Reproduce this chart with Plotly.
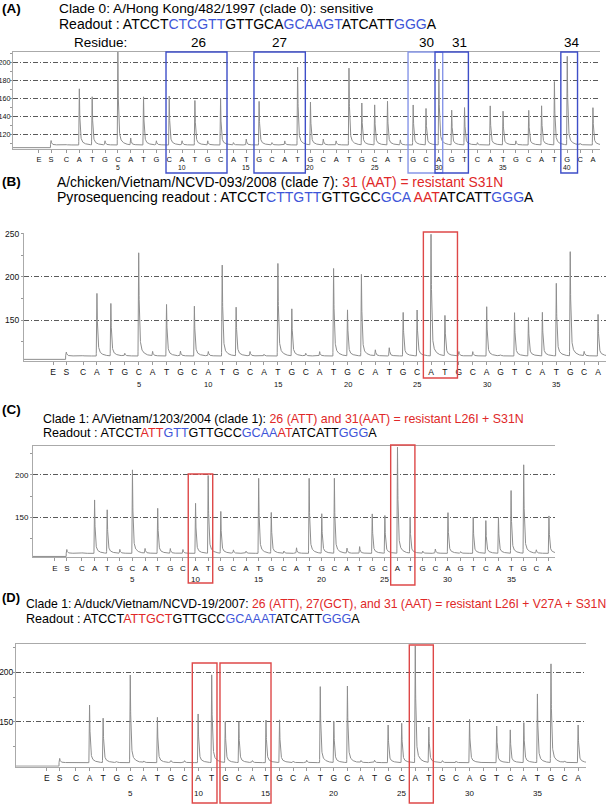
import numpy as np
import plotly.graph_objects as go

W, H = 608, 804
FONT = "Liberation Sans, Arial, Helvetica, sans-serif"
NARROW = "Liberation Sans Narrow, Arial Narrow, Liberation Sans, sans-serif"

# ---------------- data ----------------
disp_A = list("CATGCATGCATGCATGCATGCATGCATGCAGTCATGCATGCA")
disp_BCD = list("CATGCATGCATGCATGCATGCATGCATGCAGTCATGCA")
pre_labels = ["E", "S"]

peaks_A = [109, 171, 162, 113, 212, 116, 162, 113, 163, 113, 158, 113, 160, 111,
           115, 157, 111, 113, 195, 156, 115, 113, 194, 155, 153, 157, 114, 153,
           149, 193, 147, 150, 111, 152, 146, 113, 147, 152, 179, 207, 110, 150]
peaks_B = [109, 180.8, 169, 111.5, 227.7, 113.5, 168, 114, 166, 113.5, 213.5, 164.6,
           113.5, 110.4, 215.4, 162.7, 111.5, 113.5, 209.6, 161.5, 202.7, 115.4, 118,
           158.8, 161.5, 249, 155, 113.5, 113.5, 165.4, 109.6, 158.5, 152.7, 158.8,
           192.3, 228.8, 113.5, 156.5]
peaks_C = [108, 170.5, 158.7, 112, 206, 113, 160.6, 113, 112, 166.5, 199.2, 156.7,
           111.4, 110, 196, 155.5, 110, 114, 196, 154, 196, 113.4, 115.4, 154, 152,
           232.7, 150, 110, 112.6, 155.5, 109.4, 150, 146, 150, 181.5, 211.8, 111.4,
           151.6]
peaks_D = [109, 166.9, 153.4, 109.5, 197.3, 110, 154.4, 110.5, 110.5, 157.8, 197.3,
           150, 150, 110.5, 151.7, 151.7, 110, 111, 185.5, 150, 186, 110.5, 111,
           146.6, 148.3, 226.7, 144.3, 110.5, 110, 152.4, 108.5, 145.6, 141.6, 149,
           178, 208.4, 110, 146.6]

# (baseline before substrate, baseline after, substrate bump)
base_A = (105.5, 108.5, 113.4)
base_B = (104.6, 108.5, 113.0)
base_C = (103.8, 107.5, 112.0)
base_D = (105.0, 108.5, 112.8)

numbers_A = [5, 10, 15, 20, 25, 30, 35, 40]
numbers_BCD = [5, 10, 15, 20, 25, 30, 35]

yticks_A = [120, 140, 160, 180, 200]
yminor_A = [110, 130, 150, 170, 190, 210]
yticks_B = [150, 200, 250]
yticks_CD = [150, 200]
yminor_BCD = [125, 175, 225]

# highlighted codons: (first edge, last edge) in dispensation units
boxes_A = [(8.75, 13.5), (15.6, 19.6), (27.6, 30.3), (29.7, 32.3), (39.5, 40.8)]
residues_A = ["26", "27", "30", "31", "34"]
boxes_B = [(25.45, 27.9)]
boxes_C = [(9.42, 11.36), (25.46, 27.38)]
boxes_D = [(9.57, 11.39), (11.61, 15.37), (25.56, 27.33)]

# text: (segment, colour key)
title_A = [("Clade 0: A/Hong Kong/482/1997 (clade 0): sensitive", "k")]
read_A = [("Readout : ATCCT", "k"), ("CTCGTT", "b"), ("GTTGCA", "k"), ("GCAAGT", "b"),
          ("ATCATT", "k"), ("GGG", "b"), ("A", "k")]
title_B = [("A/chicken/Vietnam/NCVD-093/2008 (clade 7): ", "k"),
           ("31 (AAT) = resistant S31N", "r")]
read_B = [("Pyrosequencing readout : ATCCT", "k"), ("CTTGTT", "b"), ("GTTGCC", "k"),
          ("GCA ", "b"), ("AAT", "r"), ("ATCATT", "k"), ("GGG", "b"), ("A", "k")]
title_C = [("Clade 1: A/Vietnam/1203/2004 (clade 1): ", "k"),
           ("26 (ATT) and 31(AAT) = resistant L26I + S31N", "r")]
read_C = [("Readout : ATCCT", "k"), ("ATT", "r"), ("GTT", "b"), ("GTTGCC", "k"),
          ("GCAA", "b"), ("AT", "r"), ("ATCATT", "k"), ("GGG", "b"), ("A", "k")]
title_D = [("Clade 1: A/duck/Vietnam/NCVD-19/2007: ", "k"),
           ("26 (ATT), 27(GCT), and 31 (AAT) = resistant L26I + V27A + S31N", "r")]
read_D = [("Readout : ATCCT", "k"), ("ATTGCT", "r"), ("GTTGCC", "k"), ("GCAAAT", "b"),
          ("ATCATT", "k"), ("GGG", "b"), ("A", "k")]

# ---------------- styling / layout ----------------
COL = {"k": "#000000", "b": "#3e55d8", "r": "#e02828"}
E_POS, S_POS = -1.15, -0.2


def rich(segs):
    return "".join(f"<span style='color:{COL[c]}'>{s}</span>" for s, c in segs)


def shape_fn(t):
    out = np.zeros_like(t)
    rise = (t >= -0.05) & (t < 0)
    out[rise] = (t[rise] + 0.05) / 0.05
    dec = t >= 0
    out[dec] = 0.86 * np.exp(-t[dec] / 0.045) + 0.14 * np.exp(-t[dec] / 0.25)
    return out


def curve(heights, base, xr):
    pre, post, sb = base
    pos = np.arange(1, len(heights) + 1, dtype=float)
    xs = np.union1d(np.arange(xr[0], xr[1], 0.004), np.concatenate([pos, [S_POS]]))
    y = np.where(xs < S_POS - 0.05, pre, post).astype(float)
    y = y + (sb - post) * shape_fn(xs - S_POS)
    for p, h in zip(pos, heights):
        amp = h - post
        if amp > 0:
            y = y + amp * shape_fn(xs - p)
    return xs, y


panels = [
    dict(name="A", disp=disp_A, peaks=peaks_A, base=base_A, nums=numbers_A,
         xpx=(13, 600), ypx=(52, 149), xr=(-3.167, 42.55), yr=(104, 212),
         yt=yticks_A, ym=yminor_A, tick_font=7.2, tick_family=NARROW, standoff=-2,
         let_font=7.5, num_font=6.8,
         num_y=167.5, mirror=True, boxes=boxes_A, box_col="rgb(62,78,200)",
         box_y=(52, 173)),
    dict(name="B", disp=disp_BCD, peaks=peaks_B, base=base_B, nums=numbers_BCD,
         xpx=(24, 606), ypx=(233, 361), xr=(-3.24, 38.57), yr=(102.7, 250.6),
         yt=yticks_B, ym=yminor_BCD, tick_font=8.5, tick_family=FONT, standoff=0,
         let_font=8.5, num_font=7.5,
         num_y=384, mirror=False, boxes=boxes_B, box_col="rgb(222,72,72)",
         box_y=(232, 378)),
    dict(name="C", disp=disp_BCD, peaks=peaks_C, base=base_C, nums=numbers_BCD,
         xpx=(33, 555), ypx=(446, 557.3), xr=(-2.88, 38.48), yr=(102.8, 234.2),
         yt=yticks_CD, ym=yminor_BCD, tick_font=8, tick_family=FONT, standoff=0,
         let_font=8, num_font=8,
         num_y=579.5, mirror=True, boxes=boxes_C, box_col="rgb(222,72,72)",
         box_y=[(474, 583), (445, 585)]),
    dict(name="D", disp=disp_BCD, peaks=peaks_D, base=base_D, nums=numbers_BCD,
         xpx=(16, 586), ypx=(644, 766.7), xr=(-3.42, 38.58), yr=(104.4, 228.7),
         yt=yticks_CD, ym=yminor_BCD, tick_font=8.5, tick_family=NARROW, standoff=-2,
         let_font=8.5, num_font=8,
         num_y=793, mirror=True, boxes=boxes_D, box_col="rgb(222,72,72)",
         box_y=[(663, 803), (663, 803), (645, 803)]),
]

fig = go.Figure()
layout_axes = {}
for i, p in enumerate(panels, start=1):
    sfx = "" if i == 1 else str(i)
    xs, ys = curve(p["peaks"], p["base"], p["xr"])
    fig.add_trace(go.Scatter(x=xs, y=ys, mode="lines", xaxis="x" + sfx, yaxis="y" + sfx,
                             line=dict(color="#8e8e8e", width=1), hoverinfo="skip",
                             showlegend=False))
    n = len(p["disp"])
    tv = [E_POS, S_POS] + list(range(1, n + 1))
    tt = pre_labels + p["disp"]
    layout_axes["xaxis" + sfx] = dict(
        domain=[p["xpx"][0] / W, p["xpx"][1] / W], range=list(p["xr"]),
        anchor="y" + sfx, tickvals=tv, ticktext=tt, ticks="outside", ticklen=3,
        tickcolor="#999", tickfont=dict(size=p["let_font"], family=FONT, color="#111"),
        showline=True, linecolor="#aaa", linewidth=1, mirror=p["mirror"],
        showgrid=False, zeroline=False, fixedrange=True, automargin=False)
    layout_axes["yaxis" + sfx] = dict(
        domain=[1 - p["ypx"][1] / H, 1 - p["ypx"][0] / H], range=list(p["yr"]),
        anchor="x" + sfx, tickvals=p["yt"], ticks="outside", ticklen=2,
        tickcolor="#999",
        tickfont=dict(size=p["tick_font"], family=p["tick_family"], color="#111"),
        ticklabelstandoff=p["standoff"],
        showline=True, linecolor="#aaa", linewidth=1, showgrid=True,
        gridcolor="#5a5a5a", gridwidth=1, griddash="5px,2px,1px,2px",
        zeroline=False, fixedrange=True, automargin=False,
        minor=dict(tickvals=p["ym"], ticklen=2, tickcolor="#999", showgrid=False))
    # dispensation numbers
    for num in p["nums"]:
        fig.add_annotation(x=num, xref="x" + sfx, y=1 - p["num_y"] / H, yref="paper",
                           text=str(num), showarrow=False, xanchor="center",
                           yanchor="middle",
                           font=dict(size=p["num_font"], family=FONT, color="#111"))
    # codon boxes
    for j, (b0, b1) in enumerate(p["boxes"]):
        by = p["box_y"][j] if isinstance(p["box_y"], list) else p["box_y"]
        col = p["box_col"]
        if p["name"] == "A" and j == 2:
            col = "rgb(135,150,232)"
        fig.add_shape(type="rect", xref="x" + sfx, yref="paper", x0=b0, x1=b1,
                      y0=1 - by[1] / H, y1=1 - by[0] / H,
                      line=dict(color=col, width=1.4), fillcolor="rgba(0,0,0,0)")

# residue labels of panel A
res_pos = [11.3, 17.6, 29.0, 31.6, 40.4]
fig.add_annotation(x=72 / W, xref="paper", y=1 - 43 / H, yref="paper", text="Residue:",
                   showarrow=False, xanchor="left", yanchor="middle",
                   font=dict(size=13.5, family=FONT, color="black"))
for lab, xp in zip(residues_A, res_pos):
    fig.add_annotation(x=xp, xref="x", y=1 - 43 / H, yref="paper", text=lab,
                       showarrow=False, xanchor="center", yanchor="middle",
                       font=dict(size=13.5, family=FONT, color="black"))


def text(xp, yp, s, size, bold=False):
    fig.add_annotation(x=xp / W, xref="paper", y=1 - yp / H, yref="paper",
                       text=("<b>%s</b>" % s) if bold else s, showarrow=False,
                       xanchor="left", yanchor="middle",
                       font=dict(size=size, family=FONT, color="black"))


text(0, 9, "(A)", 13.5, True)
text(57, 9, rich(title_A), 13.7)
text(57, 24, rich(read_A), 14.0)
text(0, 181, "(B)", 13.5, True)
text(55, 182, rich(title_B), 13.85)
text(55, 197, rich(read_B), 14.05)
text(0, 409, "(C)", 13.5, True)
text(41, 419, rich(title_C), 12.4)
text(41, 433, rich(read_C), 12.6)
text(0, 597, "(D)", 13, True)
text(24, 604, rich(title_D), 12.2)
text(24, 619, rich(read_D), 12.55)

fig.update_layout(width=W, height=H, margin=dict(l=0, r=0, t=0, b=0),
                  paper_bgcolor="white", plot_bgcolor="white", showlegend=False,
                  **layout_axes)
fig.write_html("out.html", config={"displayModeBar": False},
               post_script="document.body.style.margin='0';"
                           "document.body.style.overflow='hidden';")
